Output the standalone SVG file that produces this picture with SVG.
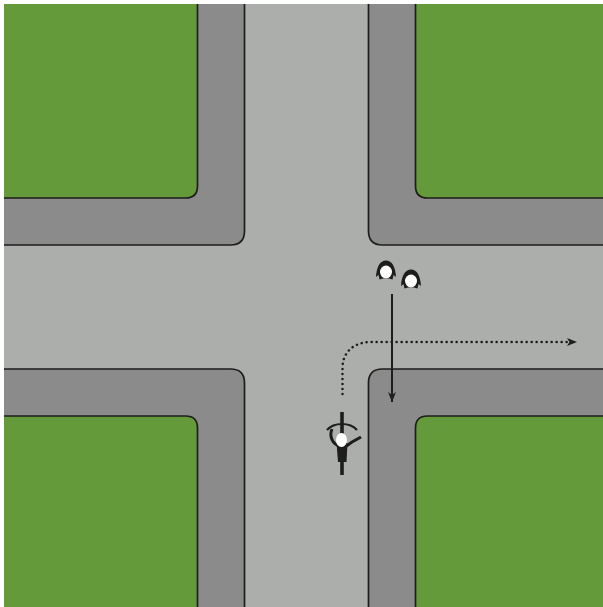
<svg xmlns="http://www.w3.org/2000/svg" width="603" height="607" viewBox="0 0 603 607">
<style>
.walk{fill:#8a8b8a}
.grass{fill:#659a3b}
.edge{fill:none;stroke:#1d1d1b;stroke-width:1.7}
.ink{fill:#1d1d1b}
.line{fill:none;stroke:#1d1d1b;stroke-width:2}
.dots{fill:none;stroke:#1d1d1b;stroke-width:2.500;stroke-linecap:round;stroke-dasharray:0.100 4.900}
.head{fill:#fff}
</style>
<defs>
<marker id="arrow" markerUnits="userSpaceOnUse" markerWidth="10" markerHeight="12" refX="4.500" refY="10" orient="0"><path d="M0.500 0L4.500 10L8.500 0L4.500 3Z" fill="#1d1d1b"/></marker>
<g id="person"><path class="ink" d="M-10 6C-9.500 -4 -6 -10.500 0 -10.500C6 -10.500 9.500 -4 10 6L7.500 4L6.500 8.500L3 7.500H-3L-6.500 8.500L-7.500 4Z"/><ellipse class="head" cx="0" cy="1" rx="6" ry="6.500"/></g>
</defs>
<rect width="603" height="607" fill="#fff"/>
<rect x="4" y="4" width="599" height="603" fill="#acaeac"/>
<g id="block-nw">
<path class="walk" d="M4 4H244.500V231Q244.500 245 230.500 245H4Z"/>
<path class="edge" d="M244.500 4V231Q244.500 245 230.500 245H4"/>
<path class="grass" d="M4 4H197.500V186Q197.500 198 185.500 198H4Z"/>
<path class="edge" d="M197.500 4V186Q197.500 198 185.500 198H4"/>
</g>
<g id="block-ne">
<path class="walk" d="M603 4H368.500V231Q368.500 245 382.500 245H603Z"/>
<path class="edge" d="M368.500 4V231Q368.500 245 382.500 245H603"/>
<path class="grass" d="M603 4H415.500V186Q415.500 198 427.500 198H603Z"/>
<path class="edge" d="M415.500 4V186Q415.500 198 427.500 198H603"/>
</g>
<g id="block-sw">
<path class="walk" d="M4 607H244.500V383Q244.500 369 230.500 369H4Z"/>
<path class="edge" d="M244.500 607V383Q244.500 369 230.500 369H4"/>
<path class="grass" d="M4 607H197.500V428Q197.500 416 185.500 416H4Z"/>
<path class="edge" d="M197.500 607V428Q197.500 416 185.500 416H4"/>
</g>
<g id="block-se">
<path class="walk" d="M603 607H368.500V383Q368.500 369 382.500 369H603Z"/>
<path class="edge" d="M368.500 607V383Q368.500 369 382.500 369H603"/>
<path class="grass" d="M603 607H415.500V428Q415.500 416 427.500 416H603Z"/>
<path class="edge" d="M415.500 607V428Q415.500 416 427.500 416H603"/>
</g>
<g id="connectors">
<path class="line" d="M392 294V402" marker-end="url(#arrow)"/>
<path class="dots" d="M342.500 394V368C342.500 352 354 342 371 342H570"/>
<path class="ink" d="M567 338L577 342L567 346L569.500 342Z"/>
</g>
<g id="pedestrian-1"><use href="#person" x="386" y="271"/></g>
<g id="pedestrian-2"><use href="#person" x="411" y="280"/></g>
<g id="cyclist">
<path class="line" style="stroke-width:3.600" d="M342 412V475"/>
<path class="ink" d="M336.500 443H347.500L346.500 462H338Z"/>
<path class="line" style="stroke-width:2.200" d="M327 430C334 422 350 422 357 430"/>
<path class="line" style="stroke-width:3" d="M332 429C329 436 332 444 340 446M345 447L352 442L361 437"/>
<ellipse class="head" cx="341.500" cy="440" rx="5.500" ry="7"/>
</g>
</svg>
